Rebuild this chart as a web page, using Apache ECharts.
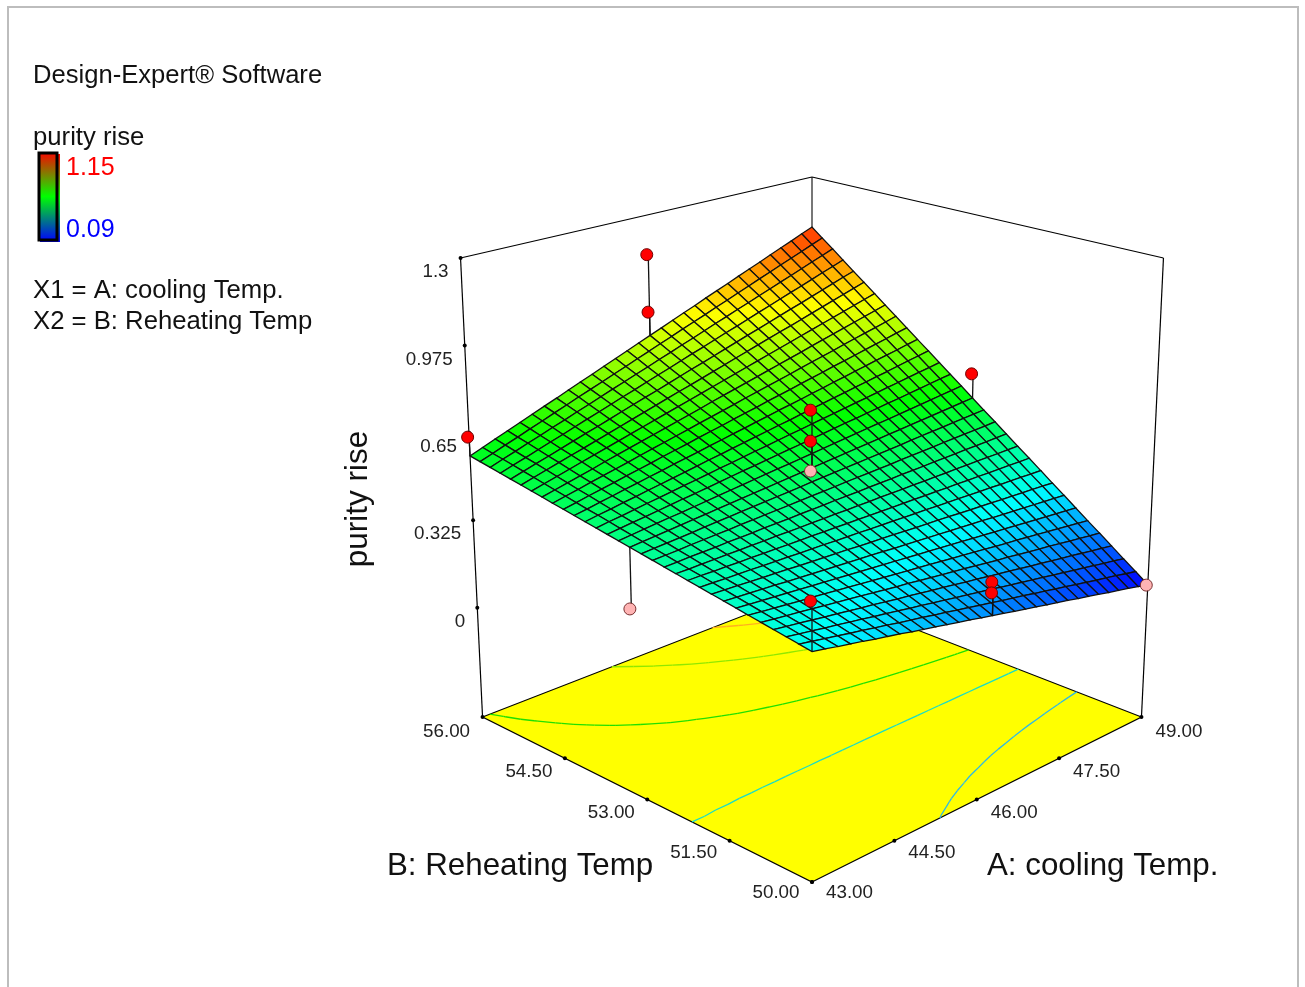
<!DOCTYPE html>
<html>
<head>
<meta charset="utf-8">
<title>purity rise</title>
<script src="https://cdn.jsdelivr.net/npm/echarts@6/dist/echarts.min.js"></script>
<style>
  html, body { margin: 0; background: #fff; }
  #chart { width: 1305px; height: 987px; }
</style>
</head>
<body>
<div id="chart"></div>
<script>
const surfaceRows = [
[370,361,351,342,333,323,314,305,295,286,277,267,258,249,239,230,221,211,202,193,183,174,165,155,146,137,127,118,109,99,90],
[377,369,360,352,343,335,326,318,309,301,293,284,276,267,259,250,242,233,225,217,208,200,191,183,174,166,157,149,141,132,124],
[384,376,369,361,354,346,339,331,324,316,308,301,293,286,278,271,263,256,248,240,233,225,218,210,203,195,188,180,172,165,157],
[391,384,378,371,364,358,351,344,338,331,324,318,311,304,298,291,284,278,271,264,258,251,244,238,231,224,218,211,204,198,191],
[398,392,386,381,375,369,363,358,352,346,340,334,329,323,317,311,306,300,294,288,282,277,271,265,259,254,248,242,236,230,225],
[405,400,395,390,385,381,376,371,366,361,356,351,346,341,337,332,327,322,317,312,307,302,297,293,288,283,278,273,268,263,258],
[412,408,404,400,396,392,388,384,380,376,372,368,364,360,356,352,348,344,340,336,332,328,324,320,316,312,308,304,300,296,292],
[419,416,413,410,407,403,400,397,394,391,388,385,382,379,375,372,369,366,363,360,357,354,351,347,344,341,338,335,332,329,326],
[426,424,422,419,417,415,413,410,408,406,404,402,399,397,395,393,390,388,386,384,382,379,377,375,373,370,368,366,364,362,359],
[433,432,430,429,428,426,425,424,422,421,420,418,417,416,414,413,412,410,409,408,406,405,404,402,401,400,398,397,396,394,393],
[440,440,439,439,438,438,437,437,436,436,436,435,435,434,434,433,433,432,432,432,431,431,430,430,429,429,428,428,428,427,427],
[447,447,448,448,449,449,450,450,451,451,451,452,452,453,453,454,454,455,455,455,456,456,457,457,458,458,459,459,459,460,460],
[454,455,457,458,459,461,462,463,465,466,467,469,470,471,473,474,475,477,478,479,481,482,483,485,486,487,489,490,491,493,494],
[461,463,465,468,470,472,474,477,479,481,483,485,488,490,492,494,497,499,501,503,505,508,510,512,514,517,519,521,523,525,528],
[468,471,474,477,480,484,487,490,493,496,499,502,505,508,512,515,518,521,524,527,530,533,536,540,543,546,549,552,555,558,561],
[475,479,483,487,491,495,499,503,507,511,515,519,523,527,531,535,539,543,547,551,555,559,563,567,571,575,579,583,587,591,595],
[482,487,492,497,502,506,511,516,521,526,531,536,541,546,550,555,560,565,570,575,580,585,590,594,599,604,609,614,619,624,629],
[489,495,501,506,512,518,524,529,535,541,547,553,558,564,570,576,581,587,593,599,605,610,616,622,628,633,639,645,651,657,662],
[496,503,509,516,523,529,536,543,549,556,563,569,576,583,589,596,603,609,616,623,629,636,643,649,656,663,669,676,683,689,696],
[503,511,518,526,533,541,548,556,563,571,579,586,594,601,609,616,624,631,639,647,654,662,669,677,684,692,699,707,715,722,730],
[510,518,527,535,544,552,561,569,578,586,594,603,611,620,628,637,645,654,662,670,679,687,696,704,713,721,730,738,746,755,763],
[517,526,536,545,554,564,573,582,592,601,610,620,629,638,648,657,666,676,685,694,704,713,722,732,741,750,760,769,778,788,797],
[524,534,544,555,565,575,585,596,606,616,626,636,647,657,667,677,688,698,708,718,728,739,749,759,769,780,790,800,810,820,831],
[531,542,553,564,575,587,598,609,620,631,642,653,664,675,687,698,709,720,731,742,753,764,775,787,798,809,820,831,842,853,864],
[538,550,562,574,586,598,610,622,634,646,658,670,682,694,706,718,730,742,754,766,778,790,802,814,826,838,850,862,874,886,898],
[545,558,571,584,597,609,622,635,648,661,674,687,700,713,725,738,751,764,777,790,803,816,829,841,854,867,880,893,906,919,932],
[552,566,580,593,607,621,635,648,662,676,690,704,717,731,745,759,772,786,800,814,828,841,855,869,883,896,910,924,938,952,965],
[559,574,588,603,618,632,647,662,676,691,706,720,735,750,764,779,794,808,823,838,852,867,882,896,911,926,940,955,970,984,999],
[566,582,597,613,628,644,659,675,690,706,722,737,753,768,784,799,815,830,846,862,877,893,908,924,939,955,970,986,1002,1017,1033],
[573,589,606,622,639,655,672,688,705,721,737,754,770,787,803,820,836,853,869,885,902,918,935,951,968,984,1001,1017,1033,1050,1066],
[580,597,615,632,649,667,684,701,719,736,753,771,788,805,823,840,857,875,892,909,927,944,961,979,996,1013,1031,1048,1065,1083,1100]
];

// design points
const pointA = [43, 46, 46, 49, 46, 46, 46, 46, 46, 43, 49, 43];
const pointB = [56, 56, 56, 53, 53, 53, 53, 50, 50, 50, 50, 53];
const pointZ = [0.65, 1.15, 0.93, 0.69, 0.75, 0.635, 0.523, 0.351, 0.312, 0.539, 0.088, 0.254];

const aTickLabels = ["43.00", "44.50", "46.00", "47.50", "49.00"];
const bTickLabels = ["50.00", "51.50", "53.00", "54.50", "56.00"];
const zTickLabels = ["0", "0.325", "0.65", "0.975", "1.3"];

const contourLevels = [0.27, 0.44, 0.59, 0.77, 0.93];
const contourColors = ["#2cb8e8", "#18dcc8", "#20e000", "#90e800", "#ffb020"];

const legendMax = 1.15;
const legendMin = 0.09;
const aMin = 43, aMax = 49, bMin = 50, bMax = 56;
const zFloor = -0.4333, zTop = 1.3;
const FONT = '"Liberation Sans", Arial, sans-serif';

// camera: fitted on the corners of the box in the picture
const cam = { cx: 812, cy: 882, s: 377.1, q: -61.3, r: -543.9, w: 0.1446, v: -0.07165 };

function project(A, B, Z) {
  const a = (A - aMin) / (aMax - aMin);
  const b = (B - bMin) / (bMax - bMin);
  const f = (Z - zFloor) / (zTop - zFloor);
  const d = 1 + cam.w * (a + b) + cam.v * f;
  return [cam.cx + cam.s * (a - b) / d, (cam.cy + cam.q * (a + b) + cam.r * f) / d];
}

const N = surfaceRows.length - 1;
const gridA = i => aMin + (aMax - aMin) * i / N;
const gridB = j => bMin + (bMax - bMin) * j / N;
const zAt = (i, j) => surfaceRows[j][i] / 1000;

function surfaceAt(A, B) {
  return zAt(Math.round((A - aMin) / (aMax - aMin) * N), Math.round((B - bMin) / (bMax - bMin) * N));
}

// cells, far corner first
const cellData = [];
for (let j = N - 1; j >= 0; j--) {
  for (let i = N - 1; i >= 0; i--) {
    cellData.push([i, j, (zAt(i, j) + zAt(i + 1, j) + zAt(i, j + 1) + zAt(i + 1, j + 1)) / 4]);
  }
}

// contour pieces on the floor, from the same table
const contourData = [];
contourLevels.forEach((lv, k) => {
  for (let j = 0; j < N; j++) {
    for (let i = 0; i < N; i++) {
      const c = [[i, j], [i + 1, j], [i + 1, j + 1], [i, j + 1]];
      const hits = [];
      for (let e = 0; e < 4; e++) {
        const p = c[e], n = c[(e + 1) % 4];
        const z1 = zAt(p[0], p[1]), z2 = zAt(n[0], n[1]);
        if ((z1 < lv) !== (z2 < lv)) {
          const t = (lv - z1) / (z2 - z1);
          hits.push([gridA(p[0] + (n[0] - p[0]) * t), gridB(p[1] + (n[1] - p[1]) * t)]);
        }
      }
      if (hits.length >= 2) contourData.push([hits[0][0], hits[0][1], hits[1][0], hits[1][1], k]);
    }
  }
});

const pt = (api, A, B, Z) => api.coord(project(A, B, Z));
const lerp = (p, q, t) => [p[0] + (q[0] - p[0]) * t, p[1] + (q[1] - p[1]) * t];

function line(p1, p2, color, width) {
  return {
    type: "line",
    shape: { x1: p1[0], y1: p1[1], x2: p2[0], y2: p2[1] },
    style: { stroke: color, lineWidth: width }
  };
}

function renderFloor(params, api) {
  const pts = [[aMin, bMin], [aMax, bMin], [aMax, bMax], [aMin, bMax]].map(c => pt(api, c[0], c[1], zFloor));
  return {
    type: "polygon",
    shape: { points: pts },
    style: { fill: "#ffff00", stroke: "#000", lineWidth: 1.2 }
  };
}

// edges of the box behind the surface
function renderBox(params, api) {
  const c = [
    [pt(api, aMin, bMax, zFloor), pt(api, aMin, bMax, zTop), "#000", 1.2],
    [pt(api, aMax, bMin, zFloor), pt(api, aMax, bMin, zTop), "#000", 1.2],
    [pt(api, aMax, bMax, zFloor), pt(api, aMax, bMax, zTop), "#777", 2],
    [pt(api, aMin, bMax, zTop), pt(api, aMax, bMax, zTop), "#000", 1.2],
    [pt(api, aMax, bMin, zTop), pt(api, aMax, bMax, zTop), "#000", 1.2]
  ];
  return { type: "group", children: c.map(l => line(l[0], l[1], l[2], l[3])) };
}

function renderContour(params, api) {
  const k = api.value(4);
  return line(
    pt(api, api.value(0), api.value(1), zFloor),
    pt(api, api.value(2), api.value(3), zFloor),
    contourColors[k], 1.3);
}

function renderCell(params, api) {
  const i = api.value(0), j = api.value(1);
  const corners = [[i, j], [i + 1, j], [i + 1, j + 1], [i, j + 1]];
  return {
    type: "polygon",
    shape: { points: corners.map(c => pt(api, gridA(c[0]), gridB(c[1]), zAt(c[0], c[1]))) },
    style: { fill: api.visual("color"), stroke: "#111", lineWidth: 1.3 }
  };
}

function tickMark(p, label, dx, dy, align) {
  return [
    { type: "circle", shape: { cx: p[0], cy: p[1], r: 2 }, style: { fill: "#000" } },
    {
      type: "text",
      style: {
        text: label, x: p[0] + dx, y: p[1] + dy,
        textAlign: align, textVerticalAlign: "middle",
        font: "18.8px " + FONT, fill: "#222"
      }
    }
  ];
}

// the ticks sit evenly between the ends of each edge, no perspective on them
function renderTicks(params, api) {
  let kids = [];
  const o = pt(api, aMin, bMin, zFloor);
  const aEnd = pt(api, aMax, bMin, zFloor);
  const bEnd = pt(api, aMin, bMax, zFloor);
  const z0 = pt(api, aMin, bMax, 0);
  const z1 = pt(api, aMin, bMax, zTop);
  aTickLabels.forEach((s, n) => { kids = kids.concat(tickMark(lerp(o, aEnd, n / 4), s, 37.5, 11 + n, "center")); });
  bTickLabels.forEach((s, n) => { kids = kids.concat(tickMark(lerp(o, bEnd, n / 4), s, -36, 11 + n, "center")); });
  zTickLabels.forEach((s, n) => { kids = kids.concat(tickMark(lerp(z0, z1, n / 4), s, -12, 14, "right")); });
  return { type: "group", children: kids };
}

function renderPoint(params, api) {
  const A = api.value(0), B = api.value(1), Z = api.value(2);
  const p = pt(api, A, B, Z);
  const s = surfaceAt(A, B);
  const below = Z < s;
  return {
    type: "group",
    children: [
      line(p, pt(api, A, B, s), "#111", 1.3),
      {
        type: "circle",
        shape: { cx: p[0] - 1.5, cy: p[1], r: 6 },
        style: { fill: below ? "#ffb4b4" : "#ff0000", stroke: below ? "#7a3030" : "#700000", lineWidth: 1 }
      }
    ]
  };
}

const pointData = pointA.map((a, n) => [a, pointB[n], pointZ[n]]);

function customSeries(name, data, renderItem) {
  return { type: "custom", name, data, renderItem, clip: false, silent: true, animation: false };
}

const chart = echarts.init(document.getElementById("chart"));

const staticText = (text, x, y, size, fill) => ({
  type: "text", x, y,
  style: { text, font: size + "px " + FONT, fill: fill || "#111", textVerticalAlign: "middle" }
});

const legendGradient = () => new echarts.graphic.LinearGradient(0, 0, 0, 1, [
  { offset: 0, color: "#ff0000" },
  { offset: 0.5, color: "#00ff00" },
  { offset: 1, color: "#0000ff" }
]);

chart.setOption({
  animation: false,
  backgroundColor: "#fff",
  grid: { left: 0, right: 0, top: 0, bottom: 0 },
  xAxis: { type: "value", min: 0, max: 1305, show: false },
  yAxis: { type: "value", min: 0, max: 987, inverse: true, show: false },
  visualMap: {
    show: false,
    type: "continuous",
    seriesIndex: 3,
    dimension: 2,
    min: legendMin,
    max: legendMax,
    inRange: { color: ["#0000ff", "#00ffff", "#00ff00", "#ffff00", "#ff0000"] }
  },
  graphic: [
    // page frame, runs off the bottom of the window
    { type: "rect", shape: { x: 8, y: 7, width: 1290, height: 1000 }, style: { fill: "none", stroke: "#bdbdbd", lineWidth: 2 } },
    staticText("Design-Expert\u00ae Software", 33, 76, 25.6),
    staticText("purity rise", 33, 138, 25.7),
    { type: "rect", shape: { x: 40, y: 154, width: 20, height: 88 }, style: { fill: legendGradient() } },
    {
      type: "rect",
      shape: { x: 39, y: 153, width: 18, height: 87 },
      style: { fill: legendGradient(), stroke: "#000", lineWidth: 3 }
    },
    staticText(String(legendMax), 66, 168, 25, "#ff0000"),
    staticText(legendMin.toFixed(2), 66, 230, 25, "#0000ff"),
    staticText("X1 = A: cooling Temp.", 33, 291, 25.7),
    staticText("X2 = B: Reheating Temp", 33, 322, 25.7),
    staticText("B: Reheating Temp", 387, 866, 31.3),
    staticText("A: cooling Temp.", 987, 866, 31.3),
    {
      type: "text", x: 358, y: 499, rotation: Math.PI / 2,
      style: { text: "purity rise", font: "31.5px " + FONT, fill: "#111", textAlign: "center", textVerticalAlign: "middle" }
    }
  ],
  series: [
    customSeries("floor", [[0, 0]], renderFloor),
    customSeries("contours", contourData, renderContour),
    customSeries("box", [[0, 0]], renderBox),
    customSeries("surface", cellData, renderCell),
    customSeries("ticks", [[0, 0]], renderTicks),
    customSeries("points", pointData, renderPoint)
  ]
});
</script>
</body>
</html>
